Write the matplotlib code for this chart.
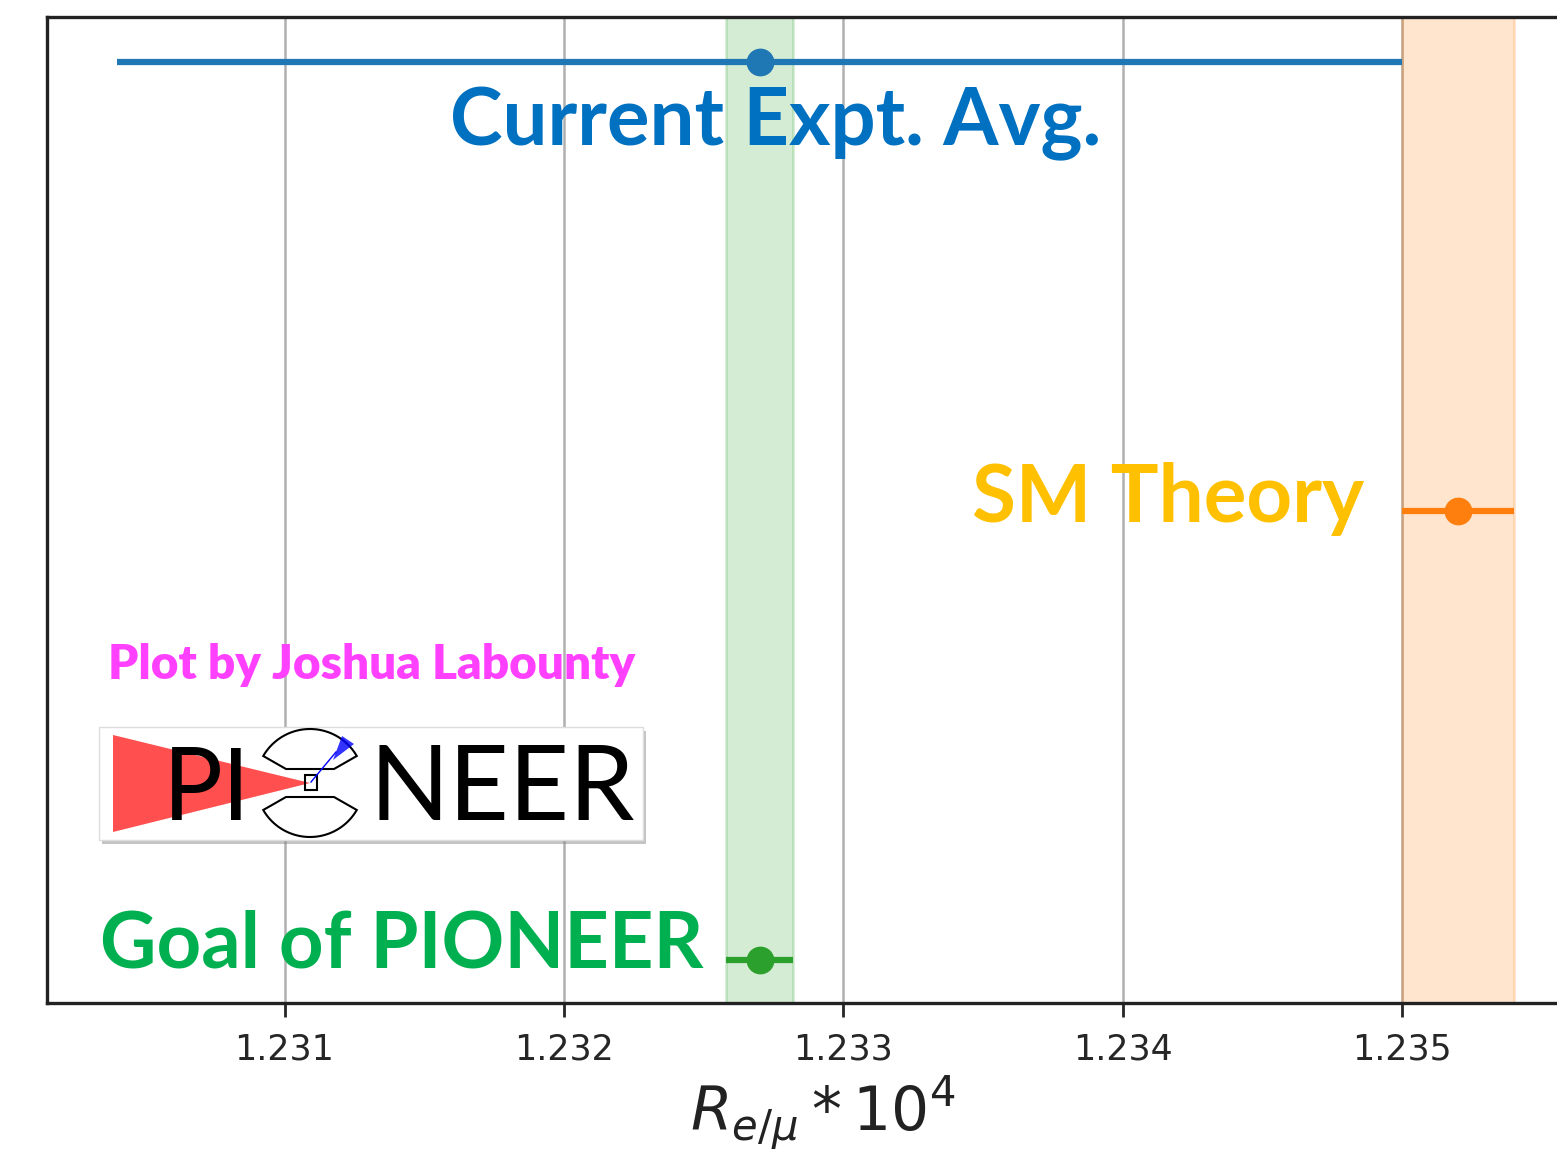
import matplotlib
matplotlib.use("Agg")
import matplotlib.pyplot as plt
import numpy as np
from matplotlib.patches import Polygon, Rectangle

# measurements (R_e/mu * 10^4)
names = ["Goal of PIONEER", "SM Theory", "Current Expt. Avg."]
centers = [1.2327, 1.2352, 1.2327]
errors = [0.00012, 0.0002, 0.0023]
rows = [0, 1, 2]
colors = ["tab:green", "tab:orange", "tab:blue"]
shaded = [True, True, False]

ticks = [1.231, 1.232, 1.233, 1.234, 1.235]
tick_labels = ["1.231", "1.232", "1.233", "1.234", "1.235"]

W, H = 1557, 1153
fig = plt.figure(figsize=(W / 100, H / 100), dpi=100)
ax = fig.add_axes([47 / W, 1 - 1003 / H, (1598 - 47) / W, (1003 - 17) / H])

for c, e, r, col, sh in zip(centers, errors, rows, colors, shaded):
    if sh:
        ax.axvspan(c - e, c + e, color=col, alpha=0.2, lw=2, zorder=1)
    ax.errorbar(c, r, xerr=e, fmt="o", color=col, ms=19, elinewidth=4.5,
                capsize=0, zorder=3)

ax.set_xlim(1.23015, 1.2357)
ax.set_ylim(-0.096, 2.1)
ax.set_yticks([])
ax.set_xticks(ticks)
ax.set_xticklabels(tick_labels)
ax.grid(axis="x", color="#b0b0b0", lw=1.8)
ax.set_axisbelow(True)
ax.tick_params(axis="x", length=10, width=2, labelsize=25, pad=11,
               colors="#262626")
for s in ax.spines.values():
    s.set_linewidth(2.4)
    s.set_color("#222222")
ax.spines["right"].set_visible(False)
ax.set_xlabel(r"$R_{e/\mu} * 10^4$", fontsize=43, labelpad=6, color="#222222")

# overlay in pixel coordinates for the annotations and logo
ov = fig.add_axes([0, 0, 1, 1], zorder=5)
ov.set_xlim(0, W)
ov.set_ylim(H, 0)
ov.axis("off")
ov.patch.set_alpha(0)

renderer = fig.canvas.get_renderer()


def fit_text(x, y, s, width, **kw):
    t = ov.text(x, y, s, fontsize=50, ha="left", va="baseline", **kw)
    w = t.get_window_extent(renderer).width
    t.set_fontsize(50 * width / w)
    return t


fit_text(450, 145, "Current Expt. Avg.", 652, color="#0070C0",
         family="Lato", weight="bold")
fit_text(972, 522, "SM Theory", 393, color="#FFC000",
         family="Lato", weight="bold")
fit_text(100, 968, "Goal of PIONEER", 605, color="#00B050",
         family="Lato", weight="bold")
fit_text(108, 679, "Plot by Joshua Labounty", 527, color="#FF40FF",
         family="Lato", weight="heavy")

# PIONEER logo
ov.add_patch(Rectangle((102, 731), 544, 113, facecolor="#888888", alpha=0.5,
                       lw=0))
ov.add_patch(Rectangle((99, 727), 544, 113, facecolor="white",
                       edgecolor="#dddddd", lw=1))
ov.add_patch(Polygon([(113, 735), (113, 832), (310, 783)], closed=True,
                     facecolor="#FF4F4F", lw=0))
fit_text(163, 820, "PI", 88, color="black", family="Lato")
fit_text(370, 820, "NEER", 266, color="black", family="Lato")

cx, cy, rad = 310, 783, 54
ang = np.radians(np.linspace(150, 30, 40))
arc_x = cx + rad * np.cos(ang)
arc_y = cy - rad * np.sin(ang)
upper = list(zip(arc_x, arc_y)) + [(334, 769), (286, 769)]
lower = [(x, 2 * cy - y) for x, y in upper]
for shape in (upper, lower):
    ov.add_patch(Polygon(shape, closed=True, facecolor="white",
                         edgecolor="black", lw=1.5))
ov.add_patch(Rectangle((305, 775), 12, 15, facecolor="none",
                       edgecolor="black", lw=1.5))
ov.plot([311, 336], [782, 752], color="blue", lw=1)
ov.add_patch(Polygon([(333, 760), (342, 736), (354, 744)], closed=True,
                     facecolor="blue", alpha=0.8, lw=0))

fig.savefig("out.png", dpi=100)
